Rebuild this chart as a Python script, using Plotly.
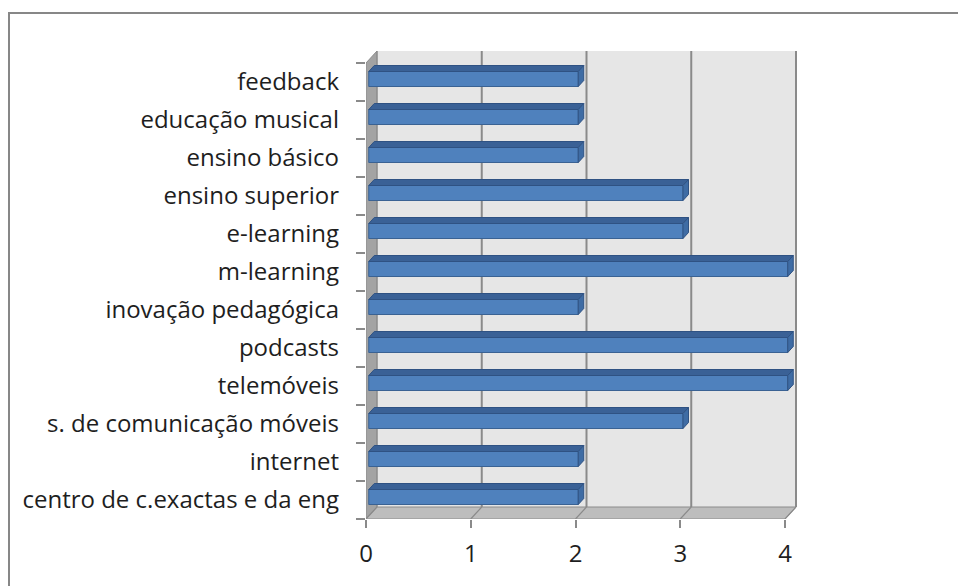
import plotly.graph_objects as go

# Keywords (bottom to top) and their counts
categories = [
    "centro de c.exactas e da eng",
    "internet",
    "s. de comunicação móveis",
    "telemóveis",
    "podcasts",
    "inovação pedagógica",
    "m-learning",
    "e-learning",
    "ensino superior",
    "ensino básico",
    "educação musical",
    "feedback",
]
counts = [2, 2, 3, 4, 4, 2, 4, 3, 3, 2, 2, 2]
x_ticks = [0, 1, 2, 3, 4]

W, H = 958, 586
PX_PER_X = 104.75          # pixels per unit on the value axis
PX_PER_CAT = 38.0          # pixels per category band
LEFT, BOTTOM, TOP = 366, 519, 50
PLOT_W = 431
X_MAX = PLOT_W / PX_PER_X
Y_MIN = -0.5
Y_MAX = Y_MIN + (BOTTOM - TOP) / PX_PER_CAT

# 3D depth offset of the back wall, in axis units
DX = 11 / PX_PER_X
DY = 12 / PX_PER_CAT
BAR_W = 15 / PX_PER_CAT
N = len(categories)
Y_TOP = N - 0.5
X_END = x_ticks[-1]

GRID = "#8a8a8a"
shapes = []


def poly(pts, fill, line=GRID, width=1, layer="below"):
    path = "M " + " L ".join(f"{x},{y}" for x, y in pts) + " Z"
    shapes.append(dict(type="path", path=path, xref="x", yref="y",
                       fillcolor=fill, line=dict(color=line, width=width),
                       layer=layer))


def seg(x0, y0, x1, y1, color=GRID, width=1.5):
    shapes.append(dict(type="line", x0=x0, y0=y0, x1=x1, y1=y1, xref="x", yref="y",
                       line=dict(color=color, width=width), layer="below"))


# back wall
poly([(DX, Y_MIN + DY), (X_END + DX, Y_MIN + DY), (X_END + DX, Y_TOP + DY), (DX, Y_TOP + DY)],
     "#e6e6e6", line="#e6e6e6", width=0)
# side wall
poly([(0, Y_MIN), (DX, Y_MIN + DY), (DX, Y_TOP + DY), (0, Y_TOP)], "#a3a3a3", line="#8c8c8c")
# floor
poly([(0, Y_MIN), (X_END, Y_MIN), (X_END + DX, Y_MIN + DY), (DX, Y_MIN + DY)], "#bdbdbd", line="#8c8c8c")

# gridlines on back wall and floor
for v in x_ticks:
    seg(v + DX, Y_MIN + DY, v + DX, Y_TOP + DY, width=2 if v else 1)
    seg(v, Y_MIN, v + DX, Y_MIN + DY, width=1.2)

# 3D bars: front face as bar trace, top and side faces as shapes
base = 0.25 * DX
ys = [i + 0.25 * DY for i in range(N)]
for yc, v in zip(ys, counts):
    yt, yb = yc + BAR_W / 2, yc - BAR_W / 2
    x1 = base + v
    poly([(base, yt), (x1, yt), (x1 + 0.5 * DX, yt + 0.5 * DY), (base + 0.5 * DX, yt + 0.5 * DY)],
         "#3a6196", line="#2f5283", width=1, layer="above")
    poly([(x1, yb), (x1, yt), (x1 + 0.5 * DX, yt + 0.5 * DY), (x1 + 0.5 * DX, yb + 0.5 * DY)],
         "#3f6ca4", line="#2f5283", width=1, layer="above")

fig = go.Figure(go.Bar(
    orientation="h", y=ys, x=counts, base=[base] * N, width=BAR_W,
    marker=dict(color="#4f81bd", line=dict(color="#3a6293", width=1)),
    hoverinfo="skip",
))

# outer frame of the chart area
def px_x(p):
    return (p - LEFT) / PLOT_W


def px_y(p):
    return (BOTTOM - p) / (BOTTOM - TOP)


shapes.append(dict(type="rect", xref="paper", yref="paper",
                   x0=px_x(9), x1=px_x(W + 20), y0=px_y(13), y1=px_y(H + 20),
                   line=dict(color="#878787", width=2), fillcolor="rgba(0,0,0,0)", layer="below"))

font = dict(family="'Open Sans', sans-serif", size=24, color="#1e1e1e")

fig.update_layout(
    width=W, height=H, autosize=False,
    margin=dict(l=LEFT, r=W - LEFT - PLOT_W, t=TOP, b=H - BOTTOM),
    paper_bgcolor="white", plot_bgcolor="white",
    showlegend=False, shapes=shapes, font=font,
    xaxis=dict(range=[0, X_MAX], tickvals=x_ticks, ticktext=[str(t) for t in x_ticks],
               ticks="outside", ticklen=8, tickcolor=GRID, tickwidth=1.5,
               showgrid=False, zeroline=False, showline=False,
               tickfont=font, ticklabelstandoff=5, fixedrange=True),
    yaxis=dict(range=[Y_MIN, Y_MAX], tickvals=list(range(N)), ticktext=categories,
               ticks="", showgrid=False, zeroline=False, showline=False,
               minor=dict(tickvals=[i - 0.5 for i in range(N + 1)], ticks="outside",
                          ticklen=9, tickcolor=GRID, tickwidth=1.5),
               tickfont=font, ticklabelstandoff=26, fixedrange=True),
)

fig.write_html("out.html")
